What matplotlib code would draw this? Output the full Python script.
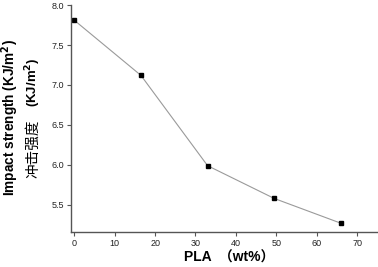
import matplotlib
matplotlib.use("Agg")
import matplotlib.pyplot as plt

pla_wt = [0, 16.5, 33, 49.5, 66]
impact = [7.81, 7.12, 5.99, 5.58, 5.27]
x_ticks = [0, 10, 20, 30, 40, 50, 60, 70]
y_ticks = [5.5, 6.0, 6.5, 7.0, 7.5, 8.0]

plt.rcParams['font.family'] = ['Liberation Sans', 'Noto Sans CJK SC']

fig = plt.figure(figsize=(3.78, 2.67), dpi=100)
ax = fig.add_axes([0.188, 0.131, 0.81, 0.850])

ax.plot(pla_wt, impact, "-", color="#9a9a9a", lw=0.8)
ax.plot(pla_wt, impact, "s", color="black", ms=3.2, mec="black")

ax.set_xlim(-0.8, 75)
ax.set_ylim(5.16, 8.0)
ax.set_xticks(x_ticks)
ax.set_yticks(y_ticks)
ax.set_xticklabels([str(v) for v in x_ticks])
ax.set_yticklabels([f"{v:.1f}" for v in y_ticks])

for s in ("top", "right"):
    ax.spines[s].set_visible(False)
for s in ("left", "bottom"):
    ax.spines[s].set_color("#555555")
    ax.spines[s].set_linewidth(1.0)
ax.tick_params(direction="out", length=3, width=0.8, color="#555555",
               labelsize=6.5, labelcolor="#222222", pad=2)

# x label placed by hand so it sits low like the original
fig.text(0.606, 0.036, "PLA  （wt%）", ha="center", va="center",
         fontsize=10, fontweight="bold")

fig.text(0.026, 0.56, "Impact strength (KJ/m$^\\mathbf{2}$)", rotation=90,
         ha="center", va="center", fontsize=9.8, fontweight="bold")
fig.text(0.088, 0.442, "冲击强度", rotation=90, ha="center", va="center",
         fontsize=10.5, family=["Noto Sans CJK SC"])
fig.text(0.088, 0.691, "(KJ/m$^\\mathbf{2}$)", rotation=90,
         ha="center", va="center", fontsize=9.5, fontweight="bold")

fig.savefig("out.png", dpi=100)
